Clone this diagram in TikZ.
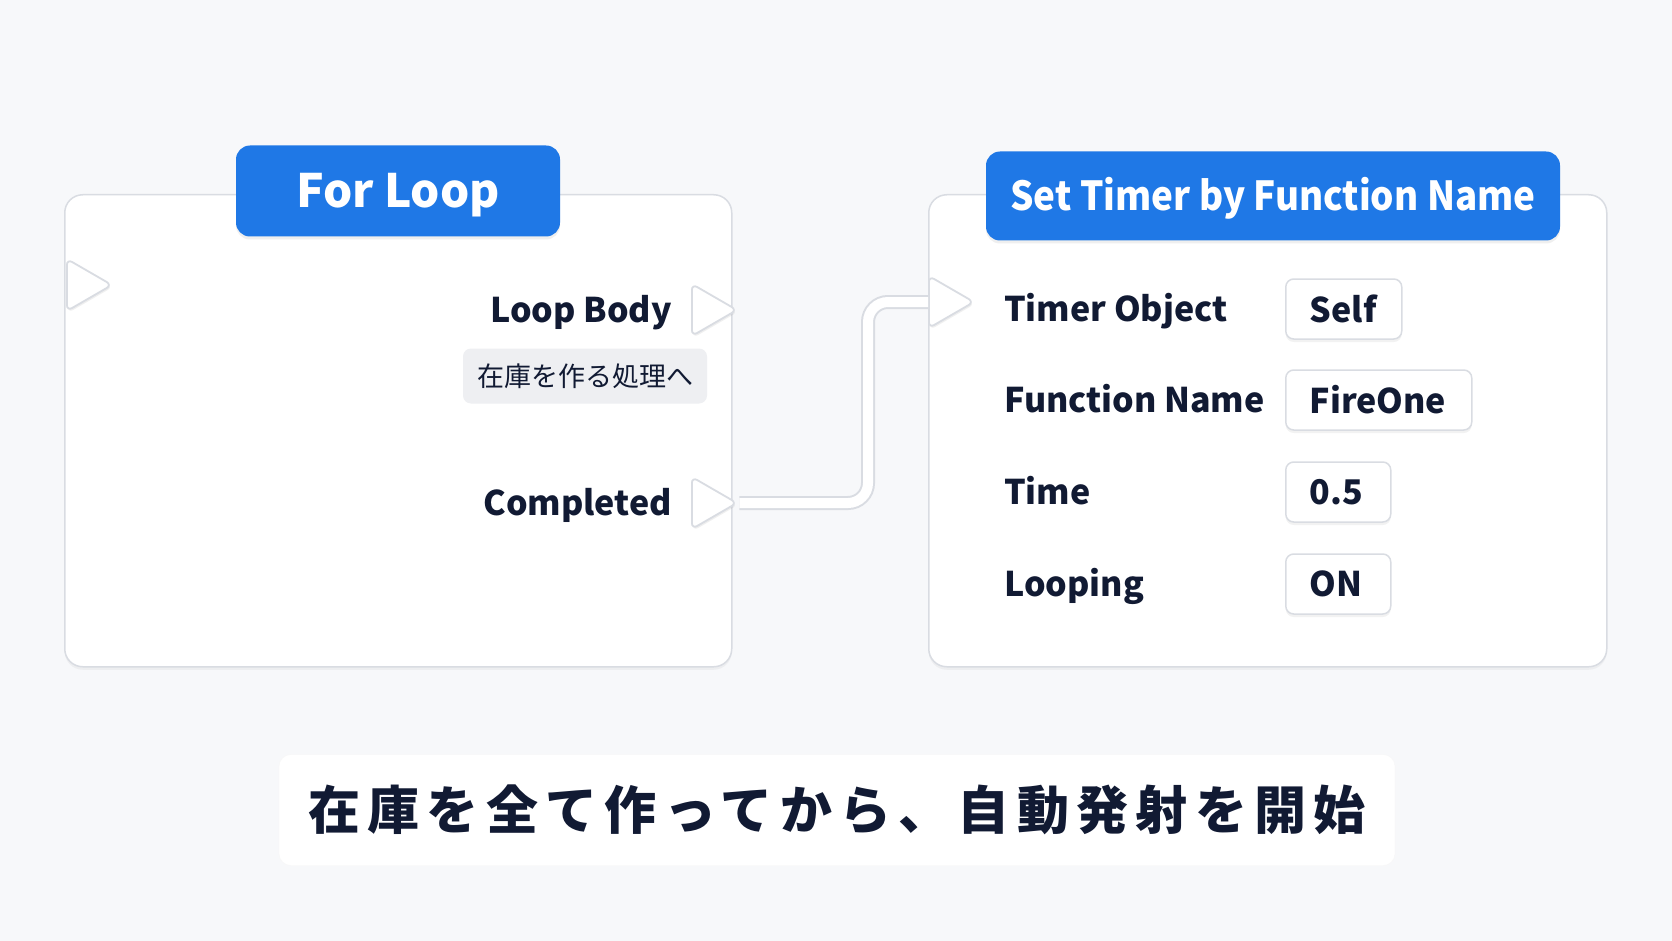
\documentclass[tikz,border=0pt]{standalone}
\usepackage{fontspec}
\setmainfont{Noto Sans CJK JP}
\usetikzlibrary{shapes.geometric,shadows}
\definecolor{bgc}{HTML}{F7F8FA}
\definecolor{edge}{HTML}{D9DCE2}
\definecolor{hdr}{HTML}{1F78E6}
\definecolor{ink}{HTML}{111A33}
\definecolor{tagc}{HTML}{EEEFF2}
\begin{document}
\begin{tikzpicture}[x=1pt,y=-1pt,
  panel/.style={draw=edge, line width=1.5pt, fill=white, rounded corners=18pt,
    drop shadow={opacity=0.08, shadow xshift=0pt, shadow yshift=-3pt}},
  header/.style={fill=hdr, rounded corners=14pt, text=white, text depth=0pt,
    drop shadow={opacity=0.12, shadow xshift=0pt, shadow yshift=-3pt}},
  pin/.style={shape=isosceles triangle, isosceles triangle stretches, minimum height=45pt, minimum width=52pt,
    inner sep=0pt, fill=white, draw=edge, line width=1.8pt, rounded corners=6pt,
    drop shadow={opacity=0.12, shadow xshift=1pt, shadow yshift=-2pt}},
  lbl/.style={text=ink, inner sep=0pt, font=\fontsize{34}{40}\selectfont\bfseries},
  valbox/.style={draw=edge, line width=1.5pt, fill=white, rounded corners=8pt, minimum height=60pt,
    inner xsep=24pt, align=left, text=ink, font=\fontsize{34}{40}\selectfont\bfseries,
    drop shadow={opacity=0.10, shadow xshift=0pt, shadow yshift=-3pt}},
  tag/.style={fill=tagc, rounded corners=8pt, minimum width=244pt, minimum height=55pt,
    text=ink, font=\fontsize{27}{32}\selectfont},
  wireout/.style={draw=edge, line width=14pt, rounded corners=20pt},
  wirein/.style={draw=white, line width=10pt, rounded corners=20pt}]
\fill[bgc] (0,0) rectangle (1672,941);
\useasboundingbox (0,0) rectangle (1672,941);
% node panels
\node[panel, anchor=north west, minimum width=667pt, minimum height=472pt] (forloop) at (64,194) {};
\node[panel, anchor=north west, minimum width=678pt, minimum height=472pt] (timer) at (928,194) {};
\node[header, minimum width=324pt, minimum height=91pt, text height=34pt,
  font=\fontsize{46}{52}\selectfont\bfseries] (fltitle) at (398,191) {For Loop};
\node[header, minimum width=574pt, minimum height=89pt, text height=29pt,
  font=\fontsize{40}{46}\selectfont\bfseries] (tmtitle) at (1273,196)
  {\scalebox{0.92}[1]{Set Timer by Function Name}};
% exec pins
\node[pin, anchor=west] (flin) at (66,285) {};
\node[pin, anchor=west] (bodypin) at (691,310) {};
\node[pin, anchor=west] (donepin) at (691,503) {};
\node[pin, anchor=west] (tmin) at (928,302) {};
% left node texts
\node[lbl, anchor=base east] (bodylbl) at (672,322) {Loop Body};
\node[tag] (bodytag) at (585,376) {在庫を作る処理へ};
\node[lbl, anchor=base east] (donelbl) at (672,515) {Completed};
% wire
\coordinate (bend) at (868,400);
\draw[wireout] (donepin.east) -| (bend) |- (tmin.west);
\draw[wirein] (donepin.east) -| (bend) |- (tmin.west);
% inputs of Set Timer
\foreach \i/\y/\lab/\val/\w in {1/309/Timer Object/Self/116,2/400/Function Name/FireOne/186,3/492/Time/0.5/105,4/584/Looping/ON/105} {
  \node[lbl, anchor=base west] (lbl\i) at (1004,\y+12) {\lab};
  \node[valbox, anchor=west, text width=\w pt-48pt] (val\i) at (1285,\y) {\val};
}
% caption
\node[fill=white, draw=white!97!black, rounded corners=12pt, minimum width=1116pt, minimum height=111pt,
  text=ink, font=\fontsize{52}{58}\selectfont\bfseries] (caption) at (837,810)
  {\addfontfeature{LetterSpace=14}在庫を全て作ってから、自動発射を開始};
\end{tikzpicture}
\end{document}
